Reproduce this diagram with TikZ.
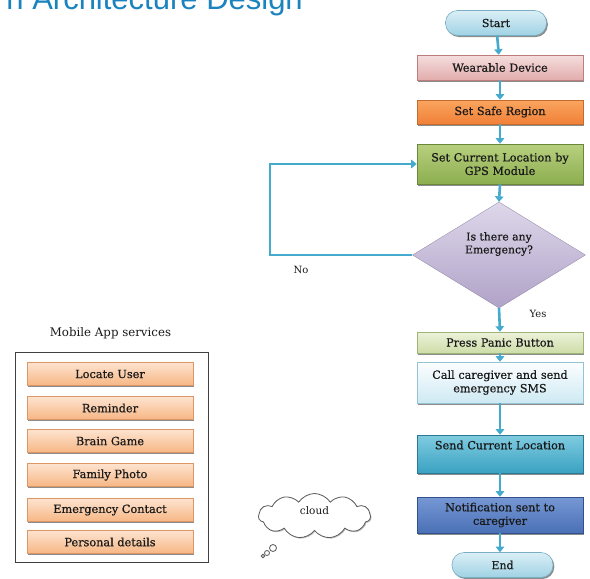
\documentclass[tikz,border=0pt]{standalone}
\usepackage{fontspec}
\setmainfont{DejaVu Serif}
\newfontfamily\boxfont{DejaVu Serif}[FakeBold=0.6]
\newfontfamily\titlefont{Liberation Sans}
\usetikzlibrary{shapes.geometric,shapes.symbols,shadows,arrows.meta}
\definecolor{arrowc}{RGB}{68,170,206}
\definecolor{titlec}{RGB}{27,131,190}
\definecolor{termT}{RGB}{218,239,246}
\definecolor{termB}{RGB}{160,210,228}
\definecolor{termD}{RGB}{120,175,195}
\definecolor{pinkT}{RGB}{245,222,222}
\definecolor{pinkB}{RGB}{226,172,172}
\definecolor{pinkD}{RGB}{190,125,125}
\definecolor{orT}{RGB}{250,165,95}
\definecolor{orB}{RGB}{240,128,55}
\definecolor{orD}{RGB}{196,108,48}
\definecolor{grT}{RGB}{184,208,126}
\definecolor{grB}{RGB}{140,174,80}
\definecolor{grD}{RGB}{106,136,58}
\definecolor{viT}{RGB}{222,216,234}
\definecolor{viB}{RGB}{176,162,200}
\definecolor{olT}{RGB}{236,242,218}
\definecolor{olB}{RGB}{206,221,168}
\definecolor{olD}{RGB}{160,180,120}
\definecolor{ltT}{RGB}{252,254,255}
\definecolor{ltB}{RGB}{206,233,243}
\definecolor{ltD}{RGB}{150,195,212}
\definecolor{tlT}{RGB}{128,203,224}
\definecolor{tlB}{RGB}{58,162,194}
\definecolor{tlD}{RGB}{40,120,150}
\definecolor{blT}{RGB}{118,152,212}
\definecolor{blB}{RGB}{74,112,182}
\definecolor{blD}{RGB}{50,80,140}
\definecolor{itT}{RGB}{253,228,208}
\definecolor{itB}{RGB}{247,182,132}
\definecolor{itD}{RGB}{222,150,100}
\tikzset{
  shad/.style={drop shadow={shadow xshift=1.3pt,shadow yshift=-1.5pt,fill=black,opacity=0.45}},
  flowbox/.style={rectangle, draw, line width=0.6pt, minimum width=165pt, inner sep=3pt,
    align=center, text width=160pt, font=\boxfont\fontsize{11.2}{13.5}\selectfont, text=black!90, shad},
  term/.style={rectangle, rounded corners=12pt, draw=termD, line width=0.6pt, top color=termT, bottom color=termB,
    minimum width=101pt, minimum height=25pt, font=\boxfont\fontsize{11}{12}\selectfont, text=black!90, shad},
  itembox/.style={rectangle, draw=itD, line width=0.5pt, top color=itT, bottom color=itB,
    minimum width=166pt, minimum height=23pt, inner sep=0pt, font=\boxfont\fontsize{11.3}{12}\selectfont, text=black!90, shad},
  arr/.style={draw=arrowc, line width=2.6pt, -{Triangle[width=8.5pt,length=5.5pt]}},
  plain/.style={font=\fontsize{10}{11}\selectfont, text=black!90}
}
\begin{document}
\begin{tikzpicture}[x=1pt,y=-1pt]
\clip (0,0) rectangle (590,579);
\useasboundingbox (0,0) rectangle (590,579);

% title (cut off at top)
\node[anchor=base east, inner sep=0pt, text=titlec, font=\titlefont\fontsize{31}{34}\selectfont] (title) at (303,9) {n Architecture Design};

% flowchart
\node[term] (start) at (496,23) {Start};
\node[flowbox, draw=pinkD, top color=pinkT, bottom color=pinkB, minimum height=25pt] (wear) at (500,67.5) {Wearable Device};
\node[flowbox, draw=orD, top color=orT, bottom color=orB, minimum height=24pt] (safe) at (500,112) {Set Safe Region};
\node[flowbox, draw=grD, top color=grT, bottom color=grB, minimum height=40pt] (gps) at (500,164) {Set Current Location by\\GPS Module};
\node[diamond, minimum width=173pt, minimum height=106pt, inner sep=0pt, top color=viT, bottom color=viB, draw=viB!80!black, line width=0.3pt,
  label={[plain, font=\boxfont\fontsize{10.8}{13}\selectfont, align=center, yshift=11pt]center:Is there any\\Emergency?}] (dec) at (499,255) {};
\node[flowbox, draw=olD, top color=olT, bottom color=olB, minimum height=21pt] (panic) at (500,342.5) {Press Panic Button};
\node[flowbox, draw=ltD, top color=ltT, bottom color=ltB, minimum height=41pt] (call) at (500,382.5) {Call caregiver and send\\emergency SMS};
\node[flowbox, draw=tlD, top color=tlT, bottom color=tlB, minimum height=38pt, text depth=18pt, inner ysep=5pt] (send) at (500,454) {Send Current Location};
\node[flowbox, draw=blD, top color=blT, bottom color=blB, minimum height=36pt] (notif) at (500,515) {Notification sent to\\caregiver};
\node[term] (end) at (502.5,565) {End};

\draw[arr] (start) -- (wear);
\draw[arr] (wear) -- (safe);
\draw[arr] (safe) -- (gps);
\draw[arr] (gps.south) -- (dec.north);
\draw[arr] (dec.south) -- (panic.north);
\draw[arr] (panic) -- (call);
\draw[arr] (call) -- (send);
\draw[arr] (send) -- (notif);
\draw[arr] (notif.south) -- (notif.south |- end.north);

\coordinate (loopc) at (270,255);
\draw[arr] (dec.west) -- (loopc) |- (gps.west);

\node[plain] (no) at (301,270) {No};
\node[plain] (yes) at (538,314) {Yes};

% mobile app services
\node[font=\fontsize{11.8}{13}\selectfont, text=black!90] (mtitle) at (110.5,333) {Mobile App services};
\node[rectangle, draw=black!75, line width=0.9pt, minimum width=193pt, minimum height=210pt, inner sep=0pt] (panel) at (111.5,457) {};
\node[itembox] (i1) at (110,374) {Locate User};
\node[itembox] (i2) at (110,408) {Reminder};
\node[itembox] (i3) at (110,441) {Brain Game};
\node[itembox] (i4) at (110,475) {Family Photo};
\node[itembox] (i5) at (110,510) {Emergency Contact};
\node[itembox] (i6) at (110,542) {Personal details};

% cloud
\node[cloud, cloud puffs=11, cloud puff arc=115, aspect=2.4, draw=black!65, line width=0.8pt, fill=white,
  minimum width=112pt, minimum height=45pt, inner sep=0pt,
  drop shadow={shadow xshift=1pt,shadow yshift=-1pt,fill=black,opacity=0.25},
  label={[plain, font=\fontsize{10.5}{12}\selectfont, yshift=5pt]center:cloud}] (cl) at (314.5,516) {};
\node[circle, draw=black!65, line width=0.8pt, fill=white, minimum size=7pt, inner sep=0pt] (b1) at (273,548) {};
\node[circle, draw=black!65, line width=0.8pt, fill=white, minimum size=5pt, inner sep=0pt] (b2) at (267,553) {};
\node[circle, draw=black!65, line width=0.8pt, fill=white, minimum size=3.5pt, inner sep=0pt] (b3) at (263,556) {};
\end{tikzpicture}
\end{document}
